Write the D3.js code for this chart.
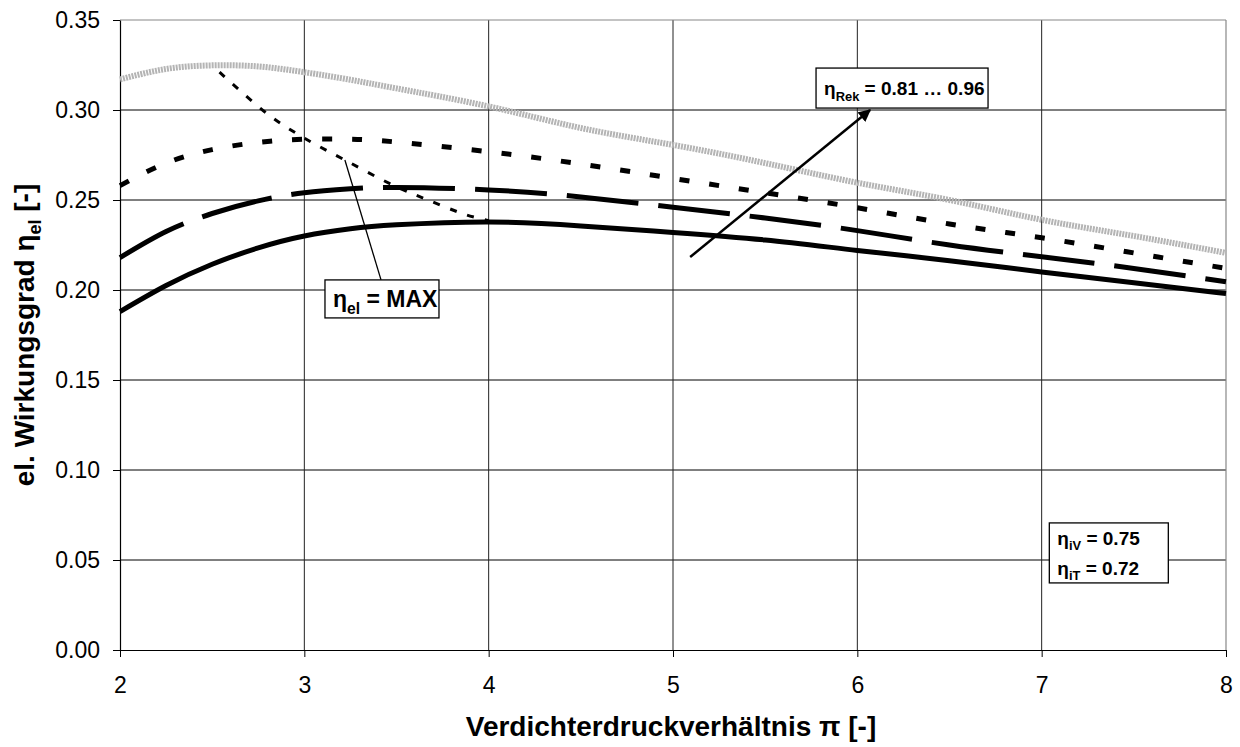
<!DOCTYPE html>
<html>
<head>
<meta charset="utf-8">
<script src="https://cdn.jsdelivr.net/npm/d3@7"></script>
<style>
  body { margin: 0; background: #fff; }
  text { font-family: Arial, "Liberation Sans", sans-serif; }
</style>
</head>
<body>
<div class="chart_area"></div>
<script>
var piValues = [2, 2.25, 2.5, 2.75, 3, 3.25, 3.5, 4, 4.5, 5, 5.5, 6, 6.5, 7, 7.5, 8];

// efficiency for eta_Rek = 0.81, 0.86, 0.91, 0.96
var eta081 = [0.188, 0.2025, 0.2143, 0.2234, 0.230, 0.234, 0.2362, 0.2378, 0.2356, 0.232, 0.2278, 0.222, 0.2163, 0.210, 0.204, 0.198];
var eta086 = [0.218, 0.2325, 0.2425, 0.2495, 0.254, 0.2562, 0.257, 0.2556, 0.2517, 0.246, 0.240, 0.233, 0.225, 0.2185, 0.212, 0.2046];
var eta091 = [0.258, 0.2705, 0.278, 0.282, 0.2838, 0.2838, 0.2822, 0.2768, 0.270, 0.262, 0.254, 0.2457, 0.2367, 0.229, 0.2206, 0.212];
var eta096 = [0.317, 0.3228, 0.3248, 0.3242, 0.321, 0.3168, 0.312, 0.302, 0.290, 0.2806, 0.2705, 0.2596, 0.250, 0.239, 0.230, 0.2206];

// line through the maxima
var maxPi = [2.54, 2.81, 3.0, 3.22, 3.48, 3.67, 3.88, 4.0];
var maxEta = [0.321, 0.297, 0.2844, 0.2722, 0.2583, 0.25, 0.2417, 0.2385];

var xTicks = [2, 3, 4, 5, 6, 7, 8];
var yTicks = [0, 0.05, 0.10, 0.15, 0.20, 0.25, 0.30, 0.35];

var margin = {top: 20, right: 14, bottom: 97, left: 120},
    width = 1240 - margin.left - margin.right,
    height = 747 - margin.top - margin.bottom;

var svg = d3.select(".chart_area").append("svg")
    .attr("width", 1240)
    .attr("height", 747)
  .append("g")
    .attr("transform", "translate(" + margin.left + "," + margin.top + ")");

var x = d3.scaleLinear().domain([2, 8]).range([0, width]);
var y = d3.scaleLinear().domain([0, 0.35]).range([height, 0]);

// grid
svg.selectAll("line.hgrid")
  .data(yTicks.slice(1, -1))
  .enter().append("line")
    .attr("class", "hgrid")
    .attr("x1", 0).attr("x2", width)
    .attr("y1", d => y(d)).attr("y2", d => y(d))
    .style("stroke", "#000").style("stroke-width", 1);

svg.selectAll("line.vgrid")
  .data(xTicks.slice(1, -1))
  .enter().append("line")
    .attr("class", "vgrid")
    .attr("x1", d => x(d)).attr("x2", d => x(d))
    .attr("y1", 0).attr("y2", height)
    .style("stroke", "#222").style("stroke-width", 1);

// plot frame (top/right grey)
svg.append("line").attr("x1", 0).attr("x2", width).attr("y1", 0).attr("y2", 0)
  .style("stroke", "#888").style("stroke-width", 1.2);
svg.append("line").attr("x1", width).attr("x2", width).attr("y1", 0).attr("y2", height)
  .style("stroke", "#888").style("stroke-width", 1.2);

// axes
svg.append("g")
  .call(d3.axisLeft(y).tickValues(yTicks).tickFormat(d3.format(".2f"))
    .tickSize(7).tickSizeOuter(0).tickPadding(13));
svg.append("g")
  .attr("transform", "translate(0," + height + ")")
  .call(d3.axisBottom(x).tickValues(xTicks).tickFormat(d3.format("d"))
    .tickSize(7).tickSizeOuter(0).tickPadding(20));

svg.selectAll(".tick text").style("font-size", "23px").style("fill", "#000");
svg.selectAll(".domain").style("stroke", "#000").style("stroke-width", 1.2);
svg.selectAll(".tick line").style("stroke", "#000");

// curves
var line = d3.line()
  .x(d => x(d[0]))
  .y(d => y(d[1]))
  .curve(d3.curveNatural);

function series(vals) { return piValues.map((p, i) => [p, vals[i]]); }

svg.append("path").datum(series(eta096))
  .attr("d", line).attr("fill", "none")
  .style("stroke", "#b4b4b4").style("stroke-width", 6).style("stroke-dasharray", "2,1");

svg.append("path").datum(series(eta091))
  .attr("d", line).attr("fill", "none")
  .style("stroke", "#000").style("stroke-width", 5).style("stroke-dasharray", "10,20");

svg.append("path").datum(series(eta086))
  .attr("d", line).attr("fill", "none")
  .style("stroke", "#000").style("stroke-width", 5).style("stroke-dasharray", "72,20");

svg.append("path").datum(series(eta081))
  .attr("d", line).attr("fill", "none")
  .style("stroke", "#000").style("stroke-width", 5);

svg.append("path").datum(maxPi.map((p, i) => [p, maxEta[i]]))
  .attr("d", d3.line().x(d => x(d[0])).y(d => y(d[1])).curve(d3.curveCatmullRom.alpha(0.5)))
  .attr("fill", "none")
  .style("stroke", "#000").style("stroke-width", 3).style("stroke-dasharray", "7,11");

// arrow marker
svg.append("defs").append("marker")
    .attr("id", "arrow")
    .attr("viewBox", "0 0 10 10")
    .attr("refX", 9).attr("refY", 5)
    .attr("markerWidth", 5).attr("markerHeight", 5)
    .attr("orient", "auto")
  .append("path").attr("d", "M0,0 L10,5 L0,10 z").attr("fill", "#000");

svg.append("line")
  .attr("x1", x(5.093)).attr("y1", y(0.2183))
  .attr("x2", x(6.069)).attr("y2", y(0.300))
  .style("stroke", "#000").style("stroke-width", 2.5)
  .attr("marker-end", "url(#arrow)");

// callout for the max line
svg.append("line")
  .attr("x1", x(3.22)).attr("y1", y(0.2722))
  .attr("x2", x(3.416)).attr("y2", y(0.2056))
  .style("stroke", "#000").style("stroke-width", 1.3);

// label boxes
function labelBox(px, py, w, h, lines, fs) {
  var g = svg.append("g").attr("transform", "translate(" + px + "," + py + ")");
  g.append("rect").attr("width", w).attr("height", h)
    .attr("fill", "#fff").style("stroke", "#000").style("stroke-width", 1.3);
  var lh = h / lines.length;
  lines.forEach((l, i) => {
    var t = g.append("text").attr("x", 8).attr("y", lh * i + lh / 2 + fs * 0.36)
      .style("font-size", fs + "px").style("font-weight", "bold");
    t.append("tspan").text("η");
    t.append("tspan").attr("dy", fs * 0.3).style("font-size", (fs * 0.68) + "px").text(l[0]);
    t.append("tspan").attr("dy", -fs * 0.3).text(l[1]);
  });
}

labelBox(x(3.112), y(0.2056), 114, 38, [["el", " = MAX"]], 23);
labelBox(x(5.776), y(0.3233), 172, 40, [["Rek", " = 0.81 … 0.96"]], 19);
labelBox(x(7.0415), y(0.0706), 119, 60, [["iV", " = 0.75"], ["iT", " = 0.72"]], 19);

// axis titles
svg.append("text")
  .attr("x", width / 2 - 2).attr("y", 716)
  .attr("text-anchor", "middle")
  .style("font-size", "28px").style("font-weight", "bold")
  .text("Verdichterdruckverhältnis π [-]");

var yt = svg.append("text")
  .attr("transform", "translate(" + (34 - margin.left) + "," + (height / 2) + ") rotate(-90)")
  .attr("text-anchor", "middle")
  .style("font-size", "28px").style("font-weight", "bold");
yt.append("tspan").text("el. Wirkungsgrad η");
yt.append("tspan").attr("dy", 7).style("font-size", "18px").text("el");
yt.append("tspan").attr("dy", -7).text(" [-]");
</script>
</body>
</html>
